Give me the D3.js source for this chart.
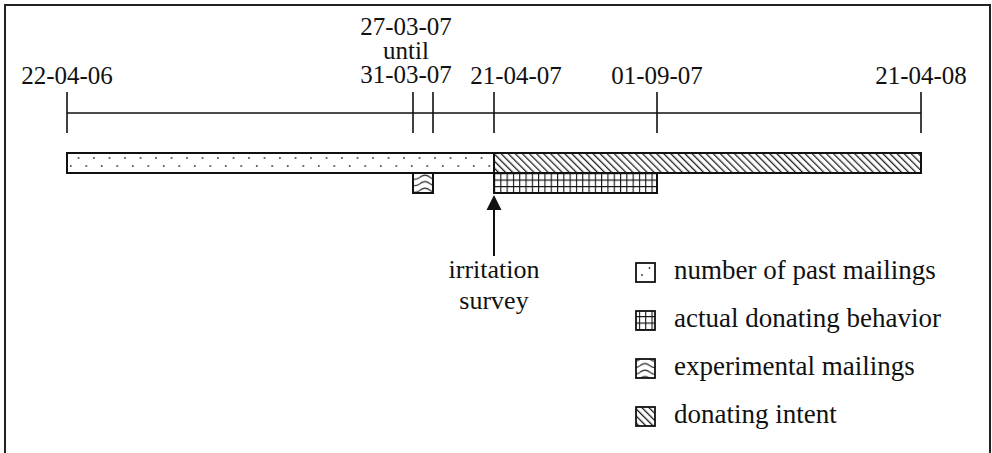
<!DOCTYPE html>
<html><head><meta charset="utf-8">
<script src="https://cdn.jsdelivr.net/npm/d3@7"></script>
<style>html,body{margin:0;padding:0;background:#fff;}svg{display:block;}
svg text{font-family:"Liberation Serif","Times New Roman",Times,"DejaVu Serif",serif;font-size:25px;fill:#111;}
svg text.leg{font-size:27px;}
svg text.ann{font-size:26px;}</style>
</head><body>
<svg id="chart" width="992" height="453"></svg>
<script>
// ---- data ----
const tickDates = ["22-04-06","27-03-07","31-03-07","21-04-07","01-09-07","21-04-08"];
const tickLabels = [["22-04-06"],[],["27-03-07","until","31-03-07"],["21-04-07"],["01-09-07"],["21-04-08"]];
const barNames = ["number of past mailings","donating intent","actual donating behavior","experimental mailings"];
const barStart = ["22-04-06","21-04-07","21-04-07","27-03-07"];
const barEnd   = ["21-04-07","21-04-08","01-09-07","31-03-07"];
const barRow   = [0,0,1,1];
const barPattern = ["dots","diag","grid","wave"];
const legendNames = ["number of past mailings","actual donating behavior","experimental mailings","donating intent"];
const legendPattern = ["dotsL","grid","wave","diag"];
const surveyDate = "21-04-07";
const surveyLabel = ["irritation","survey"];

const parse = d3.timeParse("%d-%m-%y");
const svg = d3.select("#chart");

// piecewise time scale (the original timeline is not drawn to linear time)
const x = d3.scaleTime()
  .domain(tickDates.map(parse))
  .range([67, 413, 433, 494, 657, 921]);

// frame
svg.append("rect").attr("x",5).attr("y",5).attr("width",985).attr("height",460)
  .attr("fill","none").attr("stroke","#222").attr("stroke-width",2);

// patterns
const defs = svg.append("defs");
const pDots = defs.append("pattern").attr("id","dots").attr("patternUnits","userSpaceOnUse")
  .attr("x",67).attr("y",153).attr("width",15.5).attr("height",16);
pDots.append("circle").attr("cx",11.5).attr("cy",5).attr("r",0.9).attr("fill","#333");
pDots.append("circle").attr("cx",3.75).attr("cy",13).attr("r",0.9).attr("fill","#333");

const pDotsL = defs.append("pattern").attr("id","dotsL").attr("patternUnits","userSpaceOnUse")
  .attr("x",636).attr("y",263).attr("width",19).attr("height",19);
pDotsL.append("circle").attr("cx",13.5).attr("cy",5).attr("r",0.9).attr("fill","#333");
pDotsL.append("circle").attr("cx",6).attr("cy",12).attr("r",0.9).attr("fill","#333");

const pDiag = defs.append("pattern").attr("id","diag").attr("patternUnits","userSpaceOnUse")
  .attr("width",5).attr("height",5).attr("patternTransform","rotate(-45)");
pDiag.append("rect").attr("width",5).attr("height",5).attr("fill","#fff");
pDiag.append("line").attr("x1",0).attr("y1",0).attr("x2",0).attr("y2",5)
  .attr("stroke","#222").attr("stroke-width",2.6);

const pGrid = defs.append("pattern").attr("id","grid").attr("patternUnits","userSpaceOnUse")
  .attr("x",494).attr("y",173).attr("width",6.3).attr("height",6.5);
pGrid.append("rect").attr("width",6.3).attr("height",6.5).attr("fill","#fff");
pGrid.append("path").attr("d","M0,0V6.5M0,0H6.3").attr("stroke","#111").attr("stroke-width",2.2);

const pWave = defs.append("pattern").attr("id","wave").attr("patternUnits","userSpaceOnUse")
  .attr("x",0).attr("y",174).attr("width",20).attr("height",6.5);
pWave.append("rect").attr("width",20).attr("height",6.5).attr("fill","#fff");
pWave.append("path").attr("d","M0,3.2 Q5,-0.8 10,3.2 T20,3.2")
  .attr("fill","none").attr("stroke","#333").attr("stroke-width",1.3);

// axis line
const axisY = 113;
svg.append("line").attr("x1",x(parse(tickDates[0]))).attr("x2",x(parse(tickDates[tickDates.length-1])))
  .attr("y1",axisY).attr("y2",axisY).attr("stroke","#111").attr("stroke-width",1.6);
svg.selectAll("line.tick").data(tickDates).enter().append("line").attr("class","tick")
  .attr("x1",d=>x(parse(d))).attr("x2",d=>x(parse(d)))
  .attr("y1",92).attr("y2",133).attr("stroke","#111").attr("stroke-width",1.6);

// tick labels (multi-line labels as one text element with tspans)
const labelDx = [0,0,-17,22,0,0];
tickLabels.forEach((lines,i)=>{
  if(!lines.length) return;
  const cx = (i===2 ? (x(parse(tickDates[1]))+x(parse(tickDates[2])))/2 : x(parse(tickDates[i]))) + labelDx[i];
  const n = lines.length;
  const txt = svg.append("text").attr("text-anchor","middle").attr("x",cx).attr("y",84-(n-1)*24.5);
  lines.forEach((t,j)=>{
    txt.append("tspan").attr("x",cx).attr("dy", j===0 ? 0 : 24).text(t);
  });
});

// bars
const rowY = [153,173], barH = 20;
barNames.forEach((name,i)=>{
  const x0 = x(parse(barStart[i])), x1 = x(parse(barEnd[i]));
  svg.append("rect").attr("x",x0).attr("y",rowY[barRow[i]]).attr("width",x1-x0).attr("height",barH)
    .attr("fill",`url(#${barPattern[i]})`).attr("stroke","#111").attr("stroke-width",2);
});

// survey arrow
const sx = x(parse(surveyDate));
svg.append("line").attr("x1",sx).attr("x2",sx).attr("y1",208).attr("y2",256)
  .attr("stroke","#111").attr("stroke-width",2);
svg.append("path").attr("d",`M${sx},195 L${sx-7.5},210 L${sx+7.5},210 Z`).attr("fill","#111");
const st = svg.append("text").attr("class","ann").attr("x",sx).attr("y",278).attr("text-anchor","middle");
surveyLabel.forEach((t,j)=>{
  st.append("tspan").attr("x",sx).attr("dy", j===0 ? 0 : 31).text(t);
});

// legend
legendNames.forEach((name,i)=>{
  const y0 = 263 + i*48;
  svg.append("rect").attr("x",636).attr("y",y0).attr("width",19).attr("height",19)
    .attr("fill",`url(#${legendPattern[i]})`).attr("stroke","#111").attr("stroke-width",1.8);
  svg.append("text").attr("class","leg").attr("x",674).attr("y",y0+16).text(name);
});
</script>
</body></html>
